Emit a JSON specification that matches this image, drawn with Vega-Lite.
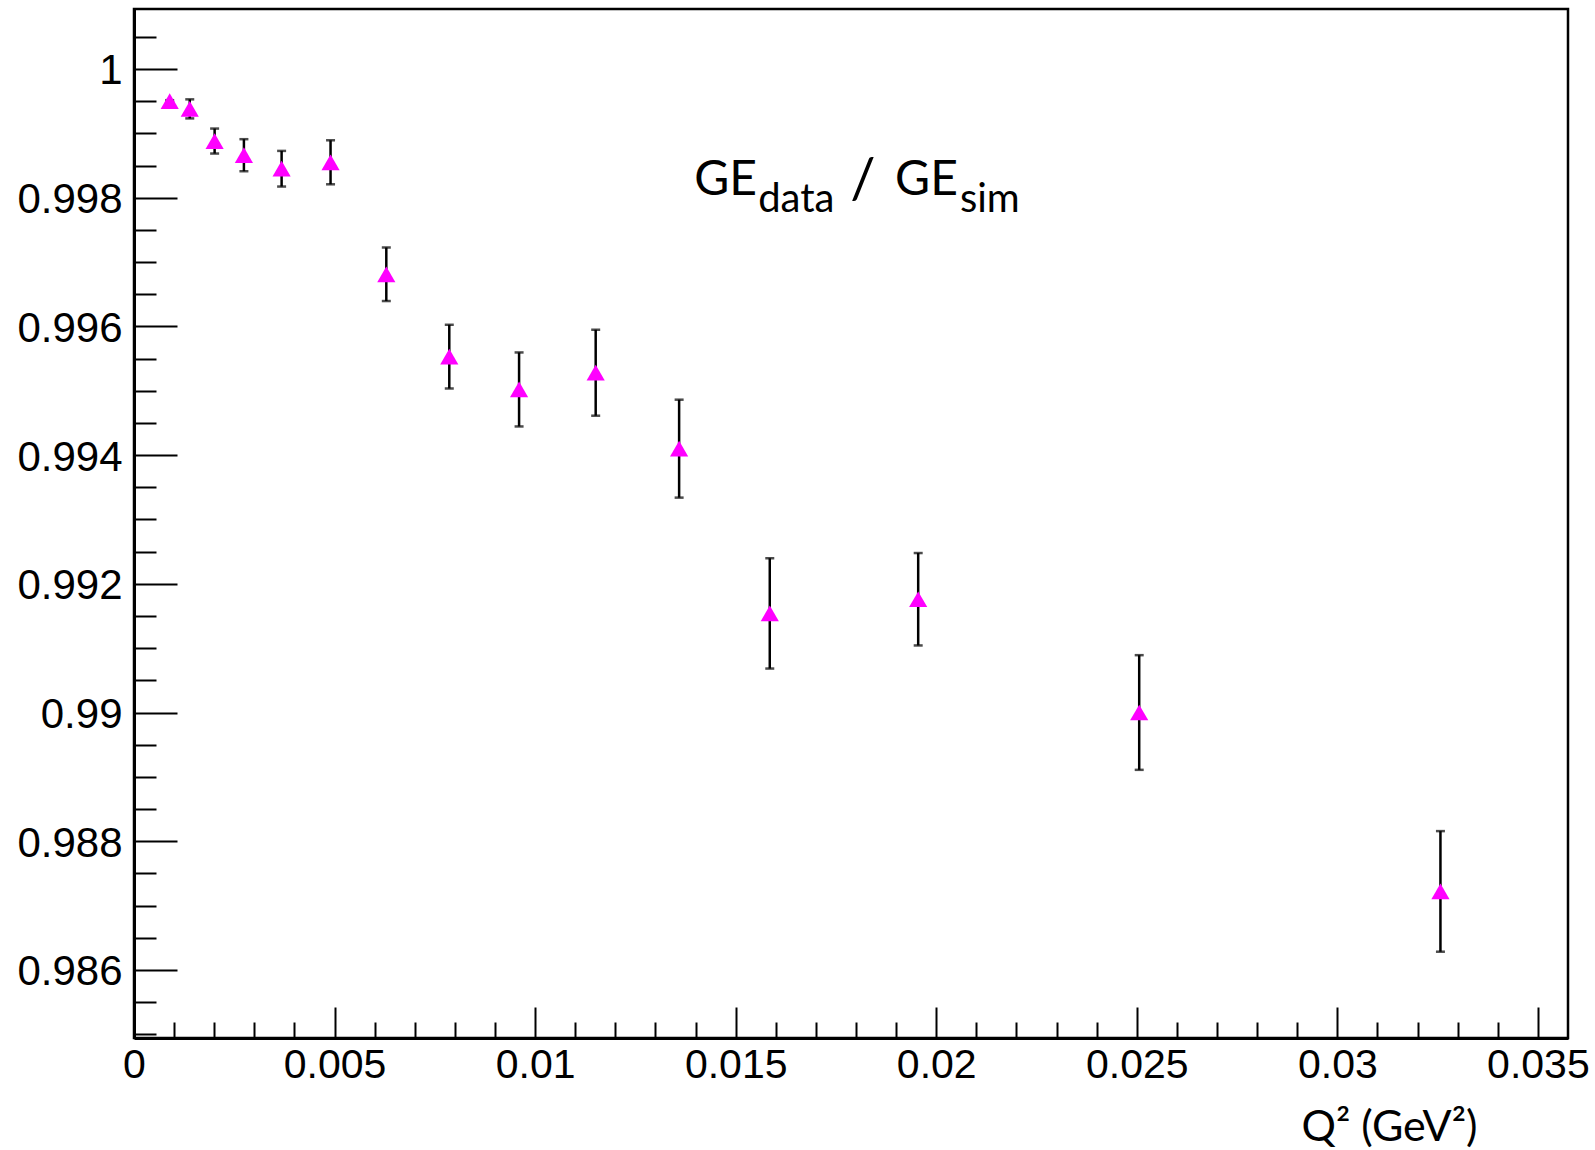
{
  "$schema": "https://vega.github.io/schema/vega-lite/v6.json",
  "width": 1434,
  "height": 1029,
  "autosize": {"type": "none"},
  "padding": {"left": 134, "top": 9, "right": 27, "bottom": 112},
  "background": "white",
  "config": {"view": {"stroke": "black", "strokeWidth": 2.5}, "axis": {"grid": false}},
  "datasets": {
    "points": [
      {"q2": 0.00089, "r": 0.99950, "err": 0.000015},
      {"q2": 0.00139, "r": 0.99938, "err": 0.000148},
      {"q2": 0.00201, "r": 0.99888, "err": 0.000194},
      {"q2": 0.00274, "r": 0.99866, "err": 0.000249},
      {"q2": 0.00368, "r": 0.99845, "err": 0.000277},
      {"q2": 0.0049, "r": 0.99855, "err": 0.000342},
      {"q2": 0.00629, "r": 0.99681, "err": 0.000416},
      {"q2": 0.00786, "r": 0.99553, "err": 0.000495},
      {"q2": 0.0096, "r": 0.99502, "err": 0.000575},
      {"q2": 0.01151, "r": 0.99528, "err": 0.000668},
      {"q2": 0.01359, "r": 0.99410, "err": 0.000761},
      {"q2": 0.01585, "r": 0.99154, "err": 0.000857},
      {"q2": 0.01955, "r": 0.99176, "err": 0.000718},
      {"q2": 0.02506, "r": 0.99000, "err": 0.000891},
      {"q2": 0.03257, "r": 0.98722, "err": 0.000937}
    ]
  },
  "layer": [
    {
      "data": {"name": "points"},
      "mark": {"type": "errorbar", "color": "black", "thickness": 2.5, "size": 9, "ticks": true},
      "encoding": {
        "x": {
          "field": "q2", "type": "quantitative",
          "scale": {"domain": [0, 0.03575], "nice": false, "zero": false},
          "axis": {
            "orient": "bottom", "title": null, "labels": false,
            "values": [0,0.001,0.002,0.003,0.004,0.005,0.006,0.007,0.008,0.009,0.01,0.011,0.012,0.013,0.014,0.015,0.016,0.017,0.018,0.019,0.02,0.021,0.022,0.023,0.024,0.025,0.026,0.027,0.028,0.029,0.03,0.031,0.032,0.033,0.034,0.035],
            "domain": true, "domainColor": "black", "domainWidth": 3,
            "ticks": true, "tickColor": "black", "tickWidth": 2,
            "tickSize": {"condition": {"test": "abs(datum.value*200 - round(datum.value*200)) < 0.01", "value": -31}, "value": -16}
          }
        },
        "y": {
          "field": "r", "type": "quantitative",
          "scale": {"domain": [0.984942, 1.000932], "nice": false, "zero": false},
          "axis": {
            "orient": "left", "title": null, "labels": false,
            "values": [0.985,0.9855,0.986,0.9865,0.987,0.9875,0.988,0.9885,0.989,0.9895,0.99,0.9905,0.991,0.9915,0.992,0.9925,0.993,0.9935,0.994,0.9945,0.995,0.9955,0.996,0.9965,0.997,0.9975,0.998,0.9985,0.999,0.9995,1,1.0005],
            "domain": true, "domainColor": "black", "domainWidth": 3,
            "ticks": true, "tickColor": "black", "tickWidth": 2,
            "tickSize": {"condition": {"test": "abs(datum.value*500 - round(datum.value*500)) < 0.01", "value": -43}, "value": -22}
          }
        },
        "yError": {"field": "err"}
      }
    },
    {
      "data": {"name": "points"},
      "mark": {"type": "point", "shape": "triangle-up", "filled": true, "color": "#ff00ff", "opacity": 1, "size": 330},
      "encoding": {
        "x": {
          "field": "q2", "type": "quantitative",
          "scale": {"domain": [0, 0.03575], "nice": false, "zero": false},
          "axis": {
            "orient": "bottom",
            "values": [0,0.005,0.01,0.015,0.02,0.025,0.03,0.035],
            "format": "~g", "ticks": false, "tickSize": 0, "domain": false,
            "labelFont": "Liberation Sans", "labelFontSize": 41, "labelColor": "black",
            "labelPadding": 7, "labelFlush": false, "labelOverlap": false, "labelBound": false,
            "title": "Q² (GeV²)", "titleFont": "Lato", "titleFontSize": 43, "titleFontWeight": "normal", "titleColor": "black",
            "titleX": 1343, "titleY": 102, "titleAlign": "right", "titleBaseline": "alphabetic"
          }
        },
        "y": {
          "field": "r", "type": "quantitative",
          "scale": {"domain": [0.984942, 1.000932], "nice": false, "zero": false},
          "axis": {
            "orient": "left",
            "values": [0.986,0.988,0.99,0.992,0.994,0.996,0.998,1],
            "format": "~g", "ticks": false, "tickSize": 0, "domain": false,
            "labelFont": "Liberation Sans", "labelFontSize": 42, "labelColor": "black",
            "labelPadding": 12, "labelOffset": 2, "labelOverlap": false, "labelBound": false, "labelFlush": false,
            "title": null
          }
        }
      }
    },
    {
      "data": {"values": [{"t": "GE"}]},
      "mark": {"type": "text", "font": "Lato", "fontSize": 48, "align": "right", "baseline": "alphabetic", "color": "black"},
      "encoding": {
        "x": {"datum": 0.01553, "type": "quantitative", "axis": null},
        "y": {"datum": 0.998042, "type": "quantitative", "axis": null},
        "text": {"field": "t"}
      }
    },
    {
      "data": {"values": [{"t": "data"}]},
      "mark": {"type": "text", "font": "Lato", "fontSize": 40, "align": "left", "baseline": "alphabetic", "color": "black"},
      "encoding": {
        "x": {"datum": 0.01556, "type": "quantitative", "axis": null},
        "y": {"datum": 0.99778, "type": "quantitative", "axis": null},
        "text": {"field": "t"}
      }
    },
    {
      "data": {"values": [{"t": "/"}]},
      "mark": {"type": "text", "font": "Lato", "fontSize": 56, "align": "center", "baseline": "alphabetic", "color": "black"},
      "encoding": {
        "x": {"datum": 0.01817, "type": "quantitative", "axis": null},
        "y": {"datum": 0.99799, "type": "quantitative", "axis": null},
        "text": {"field": "t"}
      }
    },
    {
      "data": {"values": [{"t": "GE"}]},
      "mark": {"type": "text", "font": "Lato", "fontSize": 48, "align": "right", "baseline": "alphabetic", "color": "black"},
      "encoding": {
        "x": {"datum": 0.02054, "type": "quantitative", "axis": null},
        "y": {"datum": 0.998042, "type": "quantitative", "axis": null},
        "text": {"field": "t"}
      }
    },
    {
      "data": {"values": [{"t": "sim"}]},
      "mark": {"type": "text", "font": "Lato", "fontSize": 40, "align": "left", "baseline": "alphabetic", "color": "black"},
      "encoding": {
        "x": {"datum": 0.02059, "type": "quantitative", "axis": null},
        "y": {"datum": 0.99778, "type": "quantitative", "axis": null},
        "text": {"field": "t"}
      }
    }
  ],
  "resolve": {"axis": {"x": "independent", "y": "independent"}}
}
